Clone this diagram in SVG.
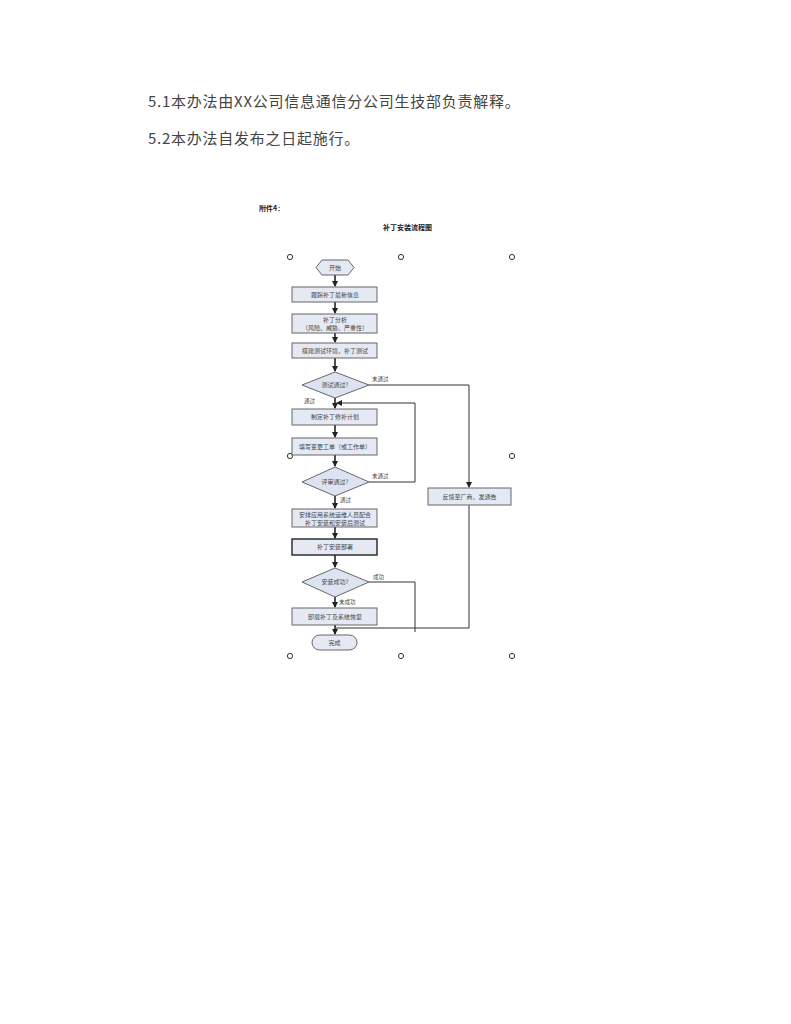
<svg xmlns="http://www.w3.org/2000/svg" width="791" height="1024" viewBox="0 0 791 1024">
<style>
.body{font-family:"Noto Sans CJK SC","Liberation Serif",serif;font-size:15px;fill:#444;letter-spacing:0.75px}
.t{font-family:"Noto Sans CJK SC","Liberation Sans",sans-serif;font-size:6px;fill:#444;text-anchor:middle}
.lb{font-family:"Noto Sans CJK SC","Liberation Sans",sans-serif;font-size:5.5px;fill:#444}
.hd{font-family:"Noto Sans CJK SC","Liberation Sans",sans-serif;font-size:7px;font-weight:bold;fill:#222}
.box{fill:#e4e9f3;stroke:#666;stroke-width:1}
.dia{fill:#dde4f1;stroke:#666;stroke-width:1}
.c{fill:#fff;stroke:#333;stroke-width:1}
.ln{fill:none;stroke:#222;stroke-width:1.6}
.ln2{fill:none;stroke:#333;stroke-width:1}
</style>
<defs>
<marker id="ah" markerWidth="6" markerHeight="6" refX="5" refY="3" orient="auto" markerUnits="userSpaceOnUse">
<path d="M0,0 L6,3 L0,6 Z" fill="#222"/>
</marker>
</defs>
<rect width="791" height="1024" fill="#fff"/>
<text class="body" x="148" y="107">5.1本办法由XX公司信息通信分公司生技部负责解释。</text>
<text class="body" x="148" y="144">5.2本办法自发布之日起施行。</text>
<text class="hd" x="259" y="211">附件4：</text>
<text class="hd" x="383" y="230">补丁安装流程图</text>

<g id="markers-circles">
<circle class="c" cx="290" cy="257" r="2.6"/>
<circle class="c" cx="401" cy="257" r="2.6"/>
<circle class="c" cx="512" cy="257" r="2.6"/>
<circle class="c" cx="290" cy="456" r="2.6"/>
<circle class="c" cx="512" cy="456" r="2.6"/>
<circle class="c" cx="290" cy="656" r="2.6"/>
<circle class="c" cx="401" cy="656" r="2.6"/>
<circle class="c" cx="512" cy="656" r="2.6"/>
</g>

<g id="connectors">
<line class="ln" x1="335" y1="275" x2="335" y2="286" marker-end="url(#ah)"/>
<line class="ln" x1="335" y1="302" x2="335" y2="313" marker-end="url(#ah)"/>
<line class="ln" x1="335" y1="333" x2="335" y2="342" marker-end="url(#ah)"/>
<line class="ln" x1="335" y1="358" x2="335" y2="371" marker-end="url(#ah)"/>
<line class="ln" x1="335" y1="398" x2="335" y2="408" marker-end="url(#ah)"/>
<line class="ln" x1="335" y1="425" x2="335" y2="437" marker-end="url(#ah)"/>
<line class="ln" x1="335" y1="455" x2="335" y2="466" marker-end="url(#ah)"/>
<line class="ln" x1="335" y1="496" x2="335" y2="508" marker-end="url(#ah)"/>
<line class="ln" x1="335" y1="527" x2="335" y2="538" marker-end="url(#ah)"/>
<line class="ln" x1="335" y1="555" x2="335" y2="567" marker-end="url(#ah)"/>
<line class="ln" x1="335" y1="597" x2="335" y2="607" marker-end="url(#ah)"/>
<line class="ln" x1="335" y1="625" x2="335" y2="634" marker-end="url(#ah)"/>
<polyline class="ln2" points="369,385 469,385 469,487" marker-end="url(#ah)"/>
<polyline class="ln2" points="369,482 415,482 415,403 337,403" marker-end="url(#ah)"/>
<polyline class="ln2" points="369,582 415,582 415,632"/>
<polyline class="ln2" points="469,505 469,628 335,628"/>
<text class="lb" x="372" y="381">未通过</text>
<text class="lb" x="304" y="403">通过</text>
<text class="lb" x="372" y="478">未通过</text>
<text class="lb" x="340" y="502">通过</text>
<text class="lb" x="373" y="579">成功</text>
<text class="lb" x="339" y="604">未成功</text>
</g>

<g id="start">
<polygon class="box" points="322,260 348,260 354,267.5 348,275 322,275 316,267.5"/>
<text class="t" x="335" y="270">开始</text>
</g>
<g id="n1">
<rect class="box" x="292" y="287" width="85" height="15"/>
<text class="t" x="335" y="297">跟踪补丁最新信息</text>
</g>
<g id="n2">
<rect class="box" x="292" y="314" width="85" height="19"/>
<text class="t" x="335" y="321.5">补丁分析</text>
<text class="t" x="335" y="330">（风险、威胁、严重性）</text>
</g>
<g id="n3">
<rect class="box" x="292" y="343" width="85" height="15"/>
<text class="t" x="335" y="353">搭建测试环境，补丁测试</text>
</g>
<g id="d1">
<polygon class="dia" points="335,372 369,385 335,398 302,385"/>
<text class="t" x="335" y="387">测试通过?</text>
</g>
<g id="n4">
<rect class="box" x="292" y="409" width="85" height="16"/>
<text class="t" x="335" y="419">制定补丁修补计划</text>
</g>
<g id="n5">
<rect class="box" x="292" y="438" width="85" height="17"/>
<text class="t" x="335" y="449">填写变更工单（或工作单）</text>
</g>
<g id="d2">
<polygon class="dia" points="335,467 369,482 335,496 302,482"/>
<text class="t" x="335" y="484">评审通过?</text>
</g>
<g id="n6">
<rect class="box" x="292" y="509" width="85" height="18"/>
<text class="t" x="335" y="516.5">安排应用系统运维人员配合</text>
<text class="t" x="335" y="524.5">补丁安装和安装后测试</text>
</g>
<g id="n7">
<rect class="box" x="292" y="539" width="85" height="16" style="stroke:#222;stroke-width:1.4"/>
<text class="t" x="335" y="549">补丁安装部署</text>
</g>
<g id="d3">
<polygon class="dia" points="335,568 369,582 335,597 302,582"/>
<text class="t" x="335" y="584">安装成功?</text>
</g>
<g id="n8">
<rect class="box" x="292" y="608" width="85" height="17"/>
<text class="t" x="335" y="619">卸载补丁及系统恢复</text>
</g>
<g id="end">
<rect class="box" x="312" y="635" width="45" height="15" rx="7.5"/>
<text class="t" x="334.5" y="645">完成</text>
</g>
<g id="n9">
<rect class="box" x="428" y="488" width="83" height="17"/>
<text class="t" x="469.5" y="499">反馈至厂商，发通告</text>
</g>
</svg>
